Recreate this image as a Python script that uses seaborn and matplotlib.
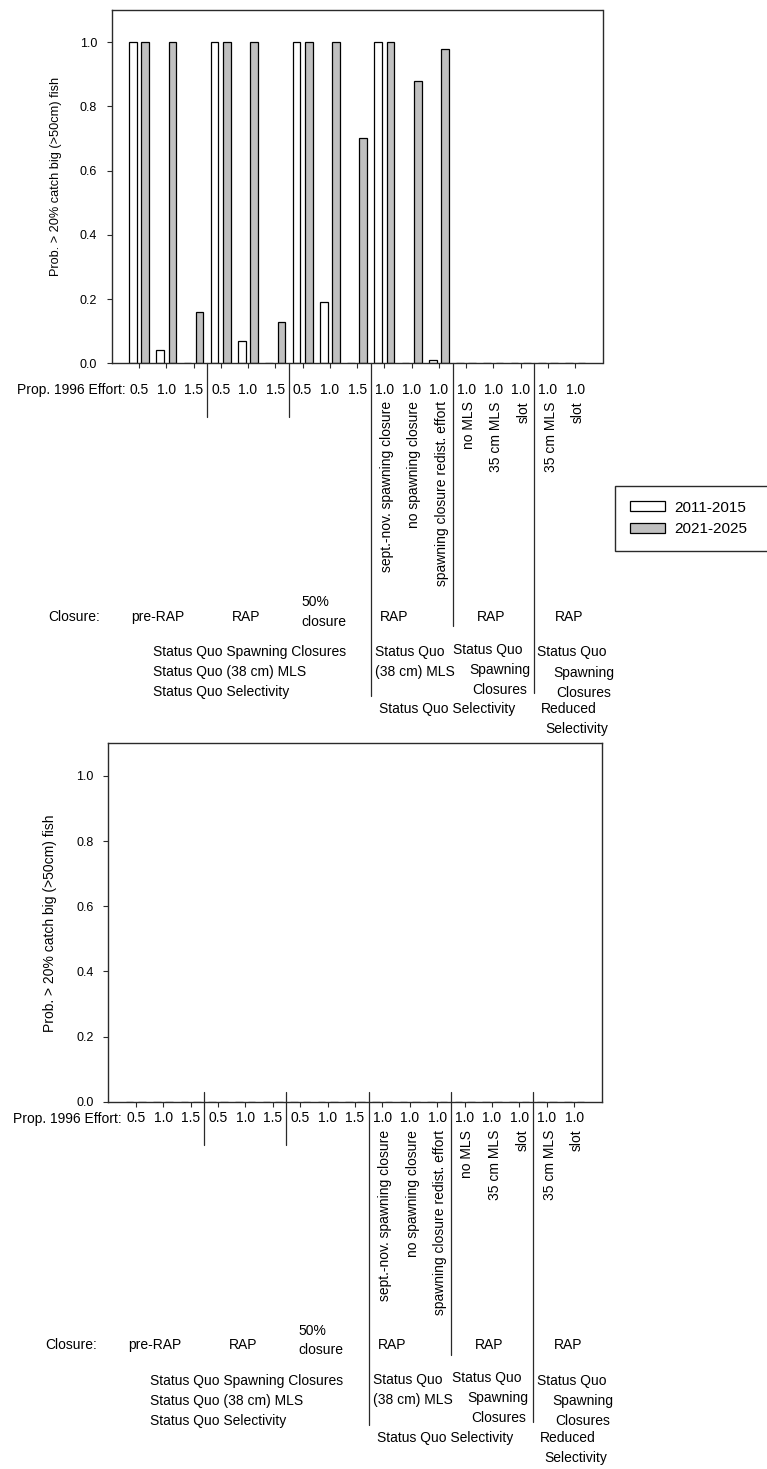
import matplotlib
matplotlib.use("Agg")
import matplotlib.pyplot as plt
import pandas as pd
import seaborn as sns

# ---------------------------------------------------------------- data
periods = ["2011-2015", "2021-2025"]
effort_labels = ["0.5", "1.0", "1.5", "0.5", "1.0", "1.5", "0.5", "1.0", "1.5",
                 "1.0", "1.0", "1.0", "1.0", "1.0", "1.0", "1.0", "1.0"]
scenario_labels = ["", "", "", "", "", "", "", "", "",
                   "sept.-nov. spawning closure", "no spawning closure",
                   "spawning closure redist. effort",
                   "no MLS", "35 cm MLS", "slot", "35 cm MLS", "slot"]

# probability that > 20% of the catch is big (>50 cm) fish
upper_2011_2015 = [1.00, 0.04, 0.00, 1.00, 0.07, 0.00, 1.00, 0.19, 0.00,
                   1.00, 0.00, 0.01, 0.00, 0.00, 0.00, 0.00, 0.00]
upper_2021_2025 = [1.00, 1.00, 0.16, 1.00, 1.00, 0.13, 1.00, 1.00, 0.70,
                   1.00, 0.88, 0.98, 0.00, 0.00, 0.00, 0.00, 0.00]
lower_2011_2015 = [0.00, 0.00, 0.00, 0.00, 0.00, 0.00, 0.00, 0.00, 0.00,
                   0.00, 0.00, 0.00, 0.00, 0.00, 0.00, 0.00, 0.00]
lower_2021_2025 = [0.00, 0.00, 0.00, 0.00, 0.00, 0.00, 0.00, 0.00, 0.00,
                   0.00, 0.00, 0.00, 0.00, 0.00, 0.00, 0.00, 0.00]

ylabel = "Prob. > 20% catch big (>50cm) fish"


def long_frame(first, second):
    slots = list(range(len(effort_labels)))
    return pd.DataFrame({
        "slot": slots + slots,
        "period": [periods[0]] * len(slots) + [periods[1]] * len(slots),
        "prob": list(first) + list(second),
    })


# ---------------------------------------------------------------- style
sns.set_style("ticks")
plt.rcParams["font.family"] = ["Liberation Sans", "DejaVu Sans"]
plt.rcParams["text.color"] = "black"
plt.rcParams["axes.labelcolor"] = "black"
plt.rcParams["xtick.color"] = "black"
plt.rcParams["ytick.color"] = "black"
INK = "#2a2a2a"
palette = {periods[0]: "white", periods[1]: "#c0c0c0"}

W, H = 767, 1469
fig = plt.figure(figsize=(W / 100, H / 100), dpi=100)


def add_axes_px(left, top, right, bottom):
    return fig.add_axes([left / W, 1 - bottom / H, (right - left) / W, (bottom - top) / H])


ax_top = add_axes_px(111.7, 10.0, 602.5, 363.3)
ax_bot = add_axes_px(108.3, 743.3, 601.7, 1101.7)


def draw_panel(ax, df, shift, tick_pad, ylabel_size, ylabel_xy, legend):
    sns.barplot(data=df, x="slot", y="prob", hue="period", palette=palette,
                hue_order=periods, errorbar=None, saturation=1, width=0.9,
                gap=0.38, edgecolor="black", linewidth=0.9, legend=legend, ax=ax)

    ax.set_xlim(-1, 17)
    ax.set_ylim(0, 1.1)
    ax.set_yticks([0.0, 0.2, 0.4, 0.6, 0.8, 1.0])
    ax.set_yticklabels([f"{v:.1f}" for v in [0.0, 0.2, 0.4, 0.6, 0.8, 1.0]], fontsize=9)
    ax.set_xticks(range(len(effort_labels)))
    ax.set_xticklabels(effort_labels, fontsize=10)
    ax.set_xlabel("")
    ax.set_ylabel(ylabel, fontsize=ylabel_size)
    ax.yaxis.set_label_coords(*ylabel_xy)
    ax.tick_params(axis="both", direction="out", length=3.6, width=0.8, color=INK,
                   labelcolor="black")
    ax.tick_params(axis="y", pad=7)
    ax.tick_params(axis="x", pad=tick_pad)
    for sp in ax.spines.values():
        sp.set_visible(True)
        sp.set_color(INK)
        sp.set_linewidth(1.0)

    h_ax = ax.bbox.height
    xform = ax.get_xaxis_transform()

    def note(x, below, s, ha="center", va="center", **kw):
        ax.annotate(s, xy=(x, 0), xycoords=xform, xytext=(0, -(below - shift)),
                    textcoords="offset pixels", ha=ha, va=va, fontsize=10,
                    color="black", annotation_clip=False, **kw)

    def rule(x, below_end):
        ax.plot([x, x], [shift / h_ax, -(below_end - shift) / h_ax], transform=xform,
                clip_on=False, color=INK, lw=0.9)

    # effort row caption
    note(-0.5, 27, "Prop. 1996 Effort:", ha="right")

    # scenario names under the effort values
    for i, name in enumerate(scenario_labels):
        if name:
            note(i + 0.1, 38, name, va="top", rotation=90)

    # group separators
    for x, end in [(2.5, 53.4), (5.5, 53.4), (8.5, 333), (11.5, 263), (14.5, 330)]:
        rule(x, end)

    # closure row
    note(-2.36, 253.4, "Closure:")
    note(0.69, 253.4, "pre-RAP")
    note(3.92, 253.4, "RAP")
    note(5.95, 239, "50%", ha="left")
    note(5.95, 258.4, "closure", ha="left")
    note(9.37, 253.4, "RAP")
    note(12.9, 253.4, "RAP")
    note(15.79, 253.4, "RAP")

    # management descriptions
    note(0.52, 289, "Status Quo Spawning Closures", ha="left")
    note(0.52, 309, "Status Quo (38 cm) MLS", ha="left")
    note(0.52, 329, "Status Quo Selectivity", ha="left")
    note(8.64, 288.4, "Status Quo", ha="left")
    note(8.64, 308.4, "(38 cm) MLS", ha="left")
    note(12.8, 286.4, "Status Quo")
    note(13.22, 306.7, "Spawning")
    note(13.24, 326.3, "Closures")
    note(11.29, 346, "Status Quo Selectivity")
    note(15.89, 289, "Status Quo")
    note(16.3, 309.4, "Spawning")
    note(16.32, 329.4, "Closures")
    note(15.76, 346, "Reduced")
    note(16.04, 366, "Selectivity")


draw_panel(ax_top, long_frame(upper_2011_2015, upper_2021_2025), shift=0,
           tick_pad=10.6, ylabel_size=9.2, ylabel_xy=(-0.102, 0.528), legend=True)
draw_panel(ax_bot, long_frame(lower_2011_2015, lower_2021_2025), shift=10,
           tick_pad=3.4, ylabel_size=10, ylabel_xy=(-0.104, 0.498), legend=False)

# legend to the right of the upper panel, box running off the figure edge
handles, labels = ax_top.get_legend_handles_labels()
ax_top.get_legend().remove()
leg = fig.legend(handles, labels, loc="upper left", mode="expand",
                 bbox_to_anchor=(615 / W, 0.5, 0.3, (1 - 486 / H) - 0.5),
                 borderaxespad=0, fontsize=11, frameon=True, fancybox=False,
                 shadow=False, framealpha=1, edgecolor=INK, borderpad=0.95,
                 handlelength=2.35, handleheight=0.6, handletextpad=0.55,
                 labelspacing=0.5)
leg.get_frame().set_linewidth(1.0)
for t in leg.get_texts():
    t.set_color("black")

fig.savefig("out.png", dpi=100, facecolor="white")
